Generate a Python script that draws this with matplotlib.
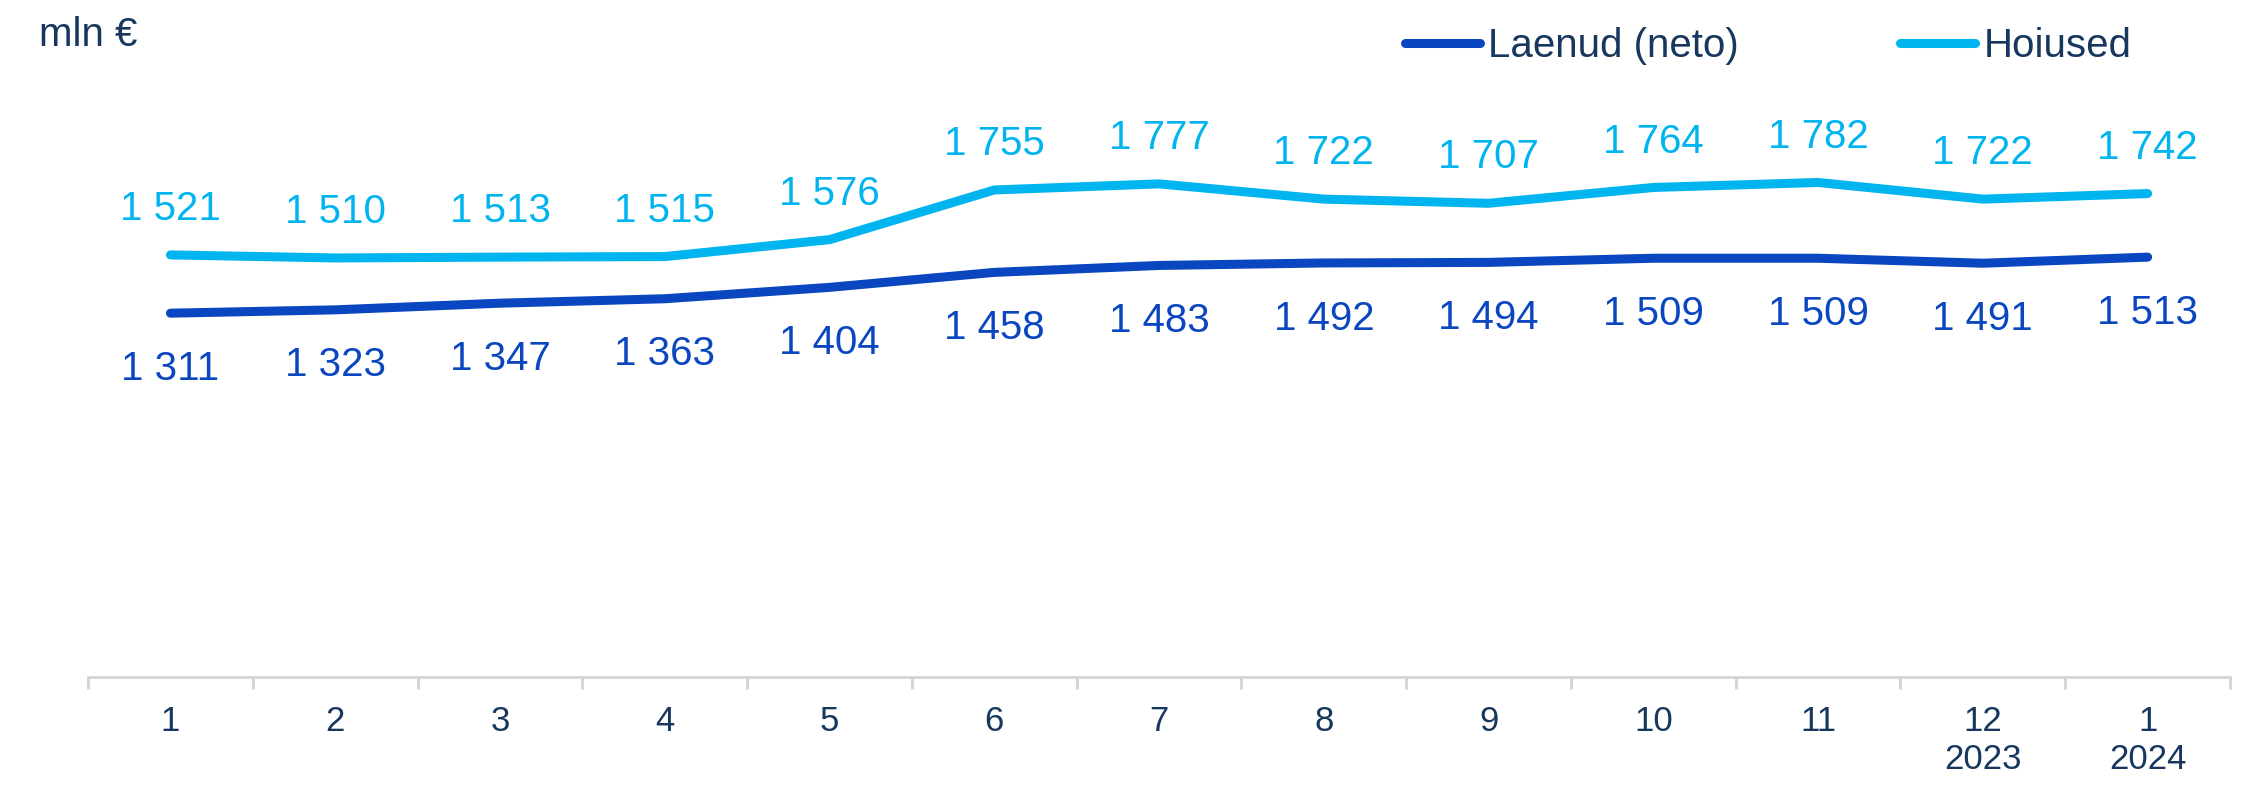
import matplotlib.pyplot as plt
import matplotlib.ticker as mticker
import numpy as np

# Data (mln €)
months = ['1', '2', '3', '4', '5', '6', '7', '8', '9', '10', '11', '12\n2023', '1\n2024']
laenud = [1311, 1323, 1347, 1363, 1404, 1458, 1483, 1492, 1494, 1509, 1509, 1491, 1513]
hoiused = [1521, 1510, 1513, 1515, 1576, 1755, 1777, 1722, 1707, 1764, 1782, 1722, 1742]

LAENUD_COLOR = '#0a46c0'
HOIUSED_COLOR = '#00b4f0'
TEXT_COLOR = '#17375e'
AXIS_COLOR = '#d4d4d4'


def fmt(v):
    return f"{v:,}".replace(",", " ")


def main():
    plt.rcParams['font.family'] = ['Liberation Sans', 'DejaVu Sans']

    fig = plt.figure(figsize=(22.53, 7.88), dpi=100)
    ax = fig.add_axes([0.0391, 0.1409, 0.9507, 0.7043])

    x = np.arange(len(months))
    ax.plot(x, laenud, color=LAENUD_COLOR, lw=6.5, solid_capstyle='round',
            solid_joinstyle='round', label='Laenud (neto)')
    ax.plot(x, hoiused, color=HOIUSED_COLOR, lw=6.5, solid_capstyle='round',
            solid_joinstyle='round', label='Hoiused')

    # data labels
    for i in range(len(x)):
        ax.annotate(fmt(hoiused[i]), (x[i], hoiused[i]), xytext=(0, 33),
                    textcoords='offset points', ha='center', va='center',
                    fontsize=29, color=HOIUSED_COLOR)
        ax.annotate(fmt(laenud[i]), (x[i], laenud[i]), xytext=(0, -40),
                    textcoords='offset points', ha='center', va='center',
                    fontsize=29, color=LAENUD_COLOR)

    ax.set_xlim(-0.5, len(months) - 0.5)
    ax.set_ylim(0, 2000)

    # axis styling
    for side in ['top', 'right', 'left']:
        ax.spines[side].set_visible(False)
    ax.spines['bottom'].set_color(AXIS_COLOR)
    ax.spines['bottom'].set_linewidth(2)
    ax.set_yticks([])

    ax.set_xticks(x)
    ax.set_xticklabels(months)
    ax.xaxis.set_minor_locator(mticker.FixedLocator(np.arange(-0.5, len(months), 1)))
    ax.tick_params(axis='x', which='major', length=0, pad=20,
                   labelsize=25, labelcolor=TEXT_COLOR)
    ax.tick_params(axis='x', which='minor', length=8.6, width=2,
                   color=AXIS_COLOR, direction='out')

    fig.text(0.0173, 0.955, 'mln €', fontsize=29, color=TEXT_COLOR,
             ha='left', va='center')

    leg = fig.legend(loc='center right', bbox_to_anchor=(0.946, 0.942),
                     ncol=2, frameon=False, fontsize=29, handlelength=1.87,
                     handletextpad=0.2, columnspacing=4.0, borderpad=0,
                     borderaxespad=0)
    for t in leg.get_texts():
        t.set_color(TEXT_COLOR)

    fig.savefig('out.png', dpi=100)


if __name__ == '__main__':
    main()
